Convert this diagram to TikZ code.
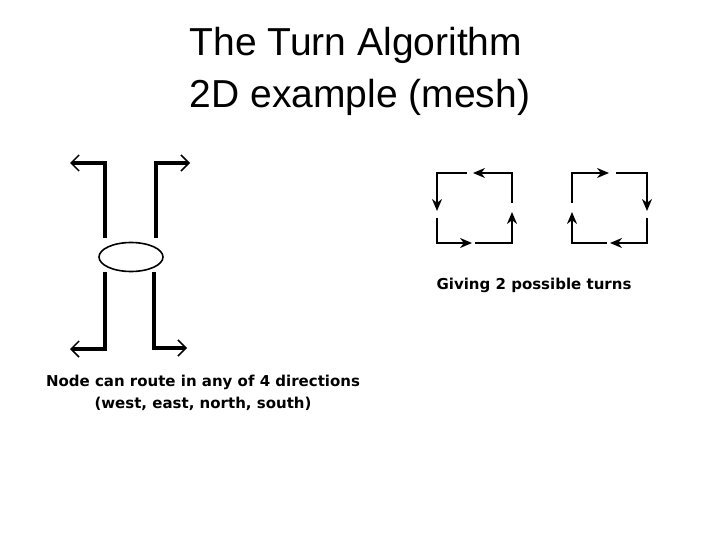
\documentclass[tikz,border=0pt]{standalone}
\usepackage{fontspec}
\setmainfont{Liberation Sans}
\newfontfamily\smallfont{DejaVu Sans}
\usetikzlibrary{arrows.meta,positioning,shapes.geometric}
\tikzset{
  leg/.style={line width=3.5pt, -{Straight Barb[length=8pt,width=16pt,line width=1.5pt]}},
  turn/.style={line width=2.6pt, -{Stealth[length=12pt,width=10pt]}},
  caption/.style={font=\smallfont\bfseries\fontsize{15}{22}\selectfont, align=center}
}
\begin{document}
\begin{tikzpicture}[x=1pt,y=-1pt]
    \useasboundingbox (0,0) rectangle (720,540);
    % Title
    \node[font=\fontsize{39}{52}\selectfont, align=left] (title) at (360,71) {The Turn Algorithm\\2D example (mesh)};

    % Node with its four directions
    \node[draw, line width=1.6pt, ellipse, minimum width=64pt, minimum height=29pt, inner sep=0pt] (router) at (131,257) {};
    \draw[leg] (105,238) -- (105,163) -- (70,163);
    \draw[leg] (156,238) -- (156,163) -- (190,163);
    \draw[leg] (105,272) -- (105,349) -- (70,349);
    \draw[leg] (154,272) -- (154,348) -- (187,348);

    % Left turn cycle
    \draw[turn] (475,243) -- (512,243) -- (512,212);
    \draw[turn] (512,203) -- (512,173) -- (473,173);
    \draw[turn] (467,173) -- (437,173) -- (437,211);
    \draw[turn] (437,218) -- (437,243) -- (472,243);

    % Right turn cycle
    \draw[turn] (607,243) -- (572,243) -- (572,212);
    \draw[turn] (572,203) -- (572,173) -- (609,173);
    \draw[turn] (616,173) -- (647,173) -- (647,211);
    \draw[turn] (647,218) -- (647,243) -- (610,243);

    % Captions
    \node[caption] (turns) at (534,285) {Giving 2 possible turns};
    \node[caption] (routes) at (203,393) {Node can route in any of 4 directions\\(west, east, north, south)};
\end{tikzpicture}
\end{document}
